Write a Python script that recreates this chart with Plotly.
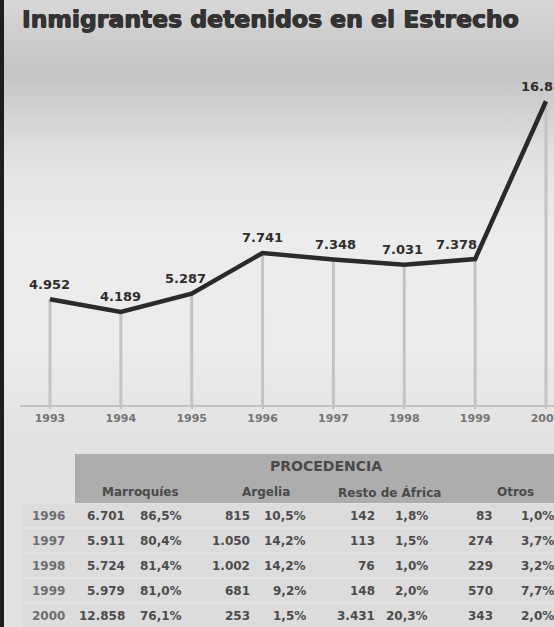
import plotly.graph_objects as go

# ---------------- data ----------------
years = [1993, 1994, 1995, 1996, 1997, 1998, 1999, 2000]
detenidos = [4952, 4189, 5287, 7741, 7348, 7031, 7378, 16885]

tabla_years = [1996, 1997, 1998, 1999, 2000]
marroquies_n = [6701, 5911, 5724, 5979, 12858]
marroquies_pct = [86.5, 80.4, 81.4, 81.0, 76.1]
argelia_n = [815, 1050, 1002, 681, 253]
argelia_pct = [10.5, 14.2, 14.2, 9.2, 1.5]
resto_africa_n = [142, 113, 76, 148, 3431]
resto_africa_pct = [1.8, 1.5, 1.0, 2.0, 20.3]
otros_n = [83, 274, 229, 570, 343]
otros_pct = [1.0, 3.7, 3.2, 7.7, 2.0]
column_headers = ["Marroquíes", "Argelia", "Resto de África", "Otros"]
group_header = "PROCEDENCIA"
title_text = "Inmigrantes detenidos en el Estrecho"

# ---------------- layout constants ----------------
W, H = 554, 627
FONT = "DejaVu Sans"
Y_MIN, Y_MAX = -1416, 18163


def px(xp):
    return xp / W


def py(yp):
    return 1 - yp / H


def fmt_int(v):
    return f"{v:,}".replace(",", ".")


def fmt_pct(p):
    return f"{p:.1f}".replace(".", ",") + "%"


fig = go.Figure()

# background gradient (full paper, on hidden axes x/y)
grad = [
    (0, "#e2e2e2"), (0.30, "#e2e2e2"), (0.44, "#ebebeb"), (0.62, "#ececec"),
    (0.74, "#e3e3e3"), (0.83, "#d0d0d0"), (0.88, "#c5c5c5"), (0.93, "#cbcbcb"),
    (1.0, "#d8d8d8"),
]
fig.add_trace(go.Scatter(
    x=[0, 1, 1, 0, 0], y=[0, 0, 1, 1, 0], mode="none", fill="toself",
    fillgradient=dict(type="vertical", colorscale=[[a, c] for a, c in grad]),
    xaxis="x", yaxis="y", hoverinfo="skip", showlegend=False,
))

# drop lines
dx, dy = [], []
for yr, v in zip(years, detenidos):
    dx += [yr, yr, None]
    dy += [v, Y_MIN, None]
fig.add_trace(go.Scatter(
    x=dx, y=dy, mode="lines", line=dict(color="#c3c3c3", width=3),
    xaxis="x2", yaxis="y2", hoverinfo="skip", showlegend=False,
))

# main line
fig.add_trace(go.Scatter(
    x=years, y=detenidos, mode="lines", line=dict(color="#2a2a2a", width=4.5),
    xaxis="x2", yaxis="y2", showlegend=False,
))

annotations = []
label_xshift = [0, 0, -6, 0, 2, -2, -19, 0]
for yr, v, xs in zip(years, detenidos, label_xshift):
    annotations.append(dict(
        x=yr, y=v, xref="x2", yref="y2", text=fmt_int(v), showarrow=False,
        xanchor="center", yanchor="middle", yshift=15, xshift=xs,
        font=dict(family=FONT, size=13, color="#2e2e2e", weight="bold"),
    ))

# ---------------- table ----------------
shapes = []
shapes.append(dict(type="rect", xref="paper", yref="paper",
                   x0=px(75), x1=1, y0=py(503), y1=py(454),
                   fillcolor="#adadad", line=dict(width=0), layer="above"))
row_top, row_h = 503, 25
for i in range(len(tabla_years)):
    shapes.append(dict(type="rect", xref="paper", yref="paper",
                       x0=px(22), x1=1, y0=py(row_top + (i + 1) * row_h - 1),
                       y1=py(row_top + i * row_h + 1),
                       fillcolor="#dcdcdc", line=dict(width=0), layer="above"))
shapes.append(dict(type="rect", xref="paper", yref="paper",
                   x0=0, x1=px(4), y0=0, y1=1,
                   fillcolor="#1e1e1e", line=dict(width=0), layer="above"))

hdr_font = dict(family=FONT, size=12, color="#4a4a4a", weight="bold")
annotations.append(dict(x=px(326), y=py(466), xref="paper", yref="paper",
                        xanchor="center", yanchor="middle",
                        text=group_header, showarrow=False,
                        font=dict(family=FONT, size=14, color="#4a4a4a", weight="bold")))
hdr_centers = [140, 266, 389, 515]
for name, cx in zip(column_headers, hdr_centers):
    annotations.append(dict(x=px(cx), y=py(492), xref="paper", yref="paper",
                            xanchor="center", yanchor="middle",
                            text=name, showarrow=False, font=hdr_font))

cell_font = dict(family=FONT, size=12, color="#4c4c4c", weight="bold")
year_font = dict(family=FONT, size=12, color="#6e6e6e", weight="bold")
col_right = [127, 184, 252, 308, 377, 430, 495, 556]
columns = [
    [fmt_int(v) for v in marroquies_n], [fmt_pct(p) for p in marroquies_pct],
    [fmt_int(v) for v in argelia_n], [fmt_pct(p) for p in argelia_pct],
    [fmt_int(v) for v in resto_africa_n], [fmt_pct(p) for p in resto_africa_pct],
    [fmt_int(v) for v in otros_n], [fmt_pct(p) for p in otros_pct],
]
for i, yr in enumerate(tabla_years):
    cy = row_top + row_h / 2 + i * row_h
    annotations.append(dict(x=px(48), y=py(cy), xref="paper", yref="paper",
                            xanchor="center", yanchor="middle",
                            text=str(yr), showarrow=False, font=year_font))
    for col, xr in zip(columns, col_right):
        annotations.append(dict(x=px(xr), y=py(cy), xref="paper", yref="paper",
                                xanchor="right", yanchor="middle",
                                text=col[i], showarrow=False, font=cell_font))

fig.update_layout(
    width=W, height=H,
    margin=dict(l=0, r=0, t=0, b=0, autoexpand=False),
    paper_bgcolor="#e4e4e4", plot_bgcolor="rgba(0,0,0,0)",
    separators=",.",
    title=dict(text=title_text, x=px(22), xanchor="left", y=py(19), yanchor="middle",
               font=dict(family=FONT, size=23.5, color="#333333", weight="bold",
                         shadow="0.6px 0 0 #333, -0.6px 0 0 #333, 0 0.6px 0 #333")),
    xaxis=dict(domain=[0, 1], range=[0, 1], visible=False, fixedrange=True,
               automargin=False),
    yaxis=dict(domain=[0, 1], range=[0, 1], visible=False, fixedrange=True,
               automargin=False),
    xaxis2=dict(domain=[px(20), 1], range=[1992.577, 2000.113], anchor="y2",
                tickvals=years, ticktext=[str(y) for y in years],
                ticklabeloverflow="allow", automargin=False,
                showgrid=False, zeroline=False, showline=True,
                linecolor="#c2c2c2", linewidth=2, ticks="outside", ticklen=2,
                tickcolor="#c2c2c2", tickwidth=2,
                tickfont=dict(family=FONT, size=11, color="#757575", weight="bold")),
    yaxis2=dict(domain=[py(405), py(80)], range=[Y_MIN, Y_MAX], anchor="x2",
                visible=False, automargin=False),
    shapes=shapes,
    annotations=annotations,
    showlegend=False,
)

fig.write_html("out.html", config={"displayModeBar": False},
               post_script="document.body.style.margin='0px';document.body.style.overflow='hidden';")
